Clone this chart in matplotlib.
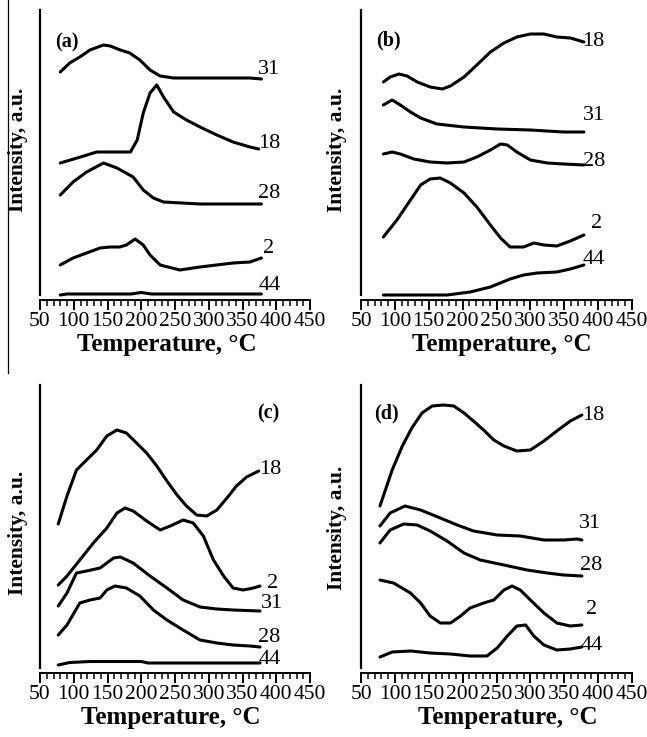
import matplotlib
matplotlib.use("Agg")
import matplotlib.pyplot as plt
from matplotlib.ticker import MultipleLocator
from matplotlib.lines import Line2D

plt.rcParams['font.family'] = ['Liberation Serif', 'DejaVu Serif']

# ---- Panel (a) ----
a_31_t = [80, 94, 109, 124, 144, 154, 169, 183, 198, 213, 228, 248, 287, 361, 378]
a_31_y = [223, 232, 238, 245, 250, 249, 245, 242, 235, 225, 219, 217, 217, 217, 216]
a_18_t = [80, 105, 134, 154, 184, 194, 203, 213, 223, 233, 248, 267, 287, 312, 336, 361, 374]
a_18_y = [132, 137, 143, 143, 143, 155, 182, 202, 210, 198, 183, 175, 168, 160, 153, 148, 146]
a_28_t = [80, 99, 119, 144, 164, 188, 203, 218, 233, 287, 378]
a_28_y = [100, 113, 123, 132, 127, 118, 105, 97, 93, 91, 91]
a_2_t = [80, 99, 119, 139, 154, 168, 178, 191, 203, 213, 228, 257, 287, 336, 361, 378]
a_2_y = [30, 37, 42, 47, 48, 48, 50, 56, 50, 40, 30, 25, 28, 32, 33, 37]
a_44_t = [80, 90, 185, 200, 215, 378]
a_44_y = [0, 1, 1, 2.5, 1, 1]

# ---- Panel (b) ----
b_18_t = [83, 93, 106, 118, 133, 152, 170, 182, 202, 221, 241, 261, 280, 300, 320, 339, 359, 379]
b_18_y = [213, 218, 221, 219, 213, 208, 206, 209, 218, 230, 243, 252, 258, 261, 261, 258, 257, 253]
b_31_t = [83, 96, 108, 123, 138, 162, 202, 251, 300, 349, 379]
b_31_y = [190, 195, 190, 183, 177, 171, 168, 166, 165, 163, 163]
b_28_t = [83, 96, 108, 128, 152, 177, 202, 221, 241, 256, 266, 280, 300, 325, 349, 379]
b_28_y = [141, 143, 141, 136, 133, 132, 133, 138, 145, 151, 150, 143, 135, 132, 131, 130]
b_2_t = [83, 103, 123, 138, 152, 167, 182, 202, 221, 241, 256, 270, 290, 305, 320, 339, 359, 379]
b_2_y = [58, 75, 95, 110, 116, 117, 112, 102, 88, 70, 57, 48, 48, 52, 50, 49, 54, 60]
b_44_t = [83, 177, 211, 241, 270, 290, 310, 339, 359, 379]
b_44_y = [0, 0, 3, 8, 16, 20, 22, 23, 26, 30]

# ---- Panel (c) ----
c_18_t = [77, 90, 104, 119, 134, 149, 164, 178, 193, 208, 223, 238, 253, 267, 282, 297, 312, 327, 341, 356, 374]
c_18_y = [144, 172, 198, 208, 218, 232, 238, 235, 225, 215, 202, 187, 173, 162, 153, 152, 158, 170, 182, 191, 197]
c_2_t = [77, 90, 109, 129, 149, 164, 176, 188, 208, 228, 243, 262, 277, 292, 307, 322, 336, 351, 366, 376]
c_2_y = [83, 92, 108, 125, 140, 155, 160, 157, 147, 138, 142, 148, 145, 132, 108, 92, 80, 78, 80, 82]
c_31_t = [77, 90, 104, 119, 139, 159, 169, 188, 213, 238, 262, 287, 312, 336, 376]
c_31_y = [62, 75, 95, 97, 100, 110, 111, 105, 92, 80, 68, 61, 59, 58, 57]
c_28_t = [77, 90, 109, 124, 139, 149, 161, 178, 198, 218, 238, 262, 287, 312, 336, 361, 376]
c_28_y = [33, 43, 65, 68, 70, 78, 82, 80, 72, 58, 48, 38, 28, 25, 23, 22, 21]
c_44_t = [77, 94, 124, 200, 210, 376]
c_44_y = [3, 5.5, 6.5, 6.5, 5, 5]

# ---- Panel (d) ----
d_18_t = [78, 86, 96, 111, 125, 140, 155, 172, 187, 202, 216, 231, 246, 261, 280, 300, 320, 339, 359, 376]
d_18_y = [162, 178, 198, 222, 240, 255, 262, 263, 262, 255, 247, 238, 228, 222, 217, 218, 227, 237, 247, 253]
d_31_t = [78, 93, 115, 138, 167, 192, 216, 251, 285, 320, 349, 369, 376]
d_31_y = [142, 155, 162, 158, 150, 143, 137, 133, 132, 128, 128, 129, 128]
d_28_t = [78, 93, 113, 133, 152, 177, 202, 226, 261, 295, 325, 349, 376]
d_28_y = [125, 138, 144, 143, 137, 127, 115, 108, 103, 98, 95, 93, 92]
d_2_t = [78, 98, 123, 138, 152, 167, 182, 197, 211, 231, 246, 261, 273, 285, 300, 320, 339, 359, 376]
d_2_y = [88, 85, 75, 65, 52, 45, 45, 52, 60, 65, 68, 78, 82, 78, 68, 55, 45, 42, 43]
d_44_t = [78, 96, 123, 152, 182, 211, 236, 251, 266, 280, 293, 305, 320, 339, 359, 376]
d_44_y = [11, 16, 17, 15, 14, 12, 12, 20, 32, 42, 43, 32, 23, 18, 19, 21]

x_ticks = [50, 100, 150, 200, 250, 300, 350, 400, 450]

panels = [
    dict(rect=[40, 10, 270, 285], ymax=285, tag='(a)', tag_xy=(90, 253),
         xlab_x=0.47, ylab_xy=(-0.044, 0.509),
         series=[(a_31_t, a_31_y, '31', (389, 225)),
                 (a_18_t, a_18_y, '18', (389, 152)),
                 (a_28_t, a_28_y, '28', (390, 102)),
                 (a_2_t, a_2_y, '2', (389, 47)),
                 (a_44_t, a_44_y, '44', (390, 10))]),
    dict(rect=[361, 10, 271, 285], ymax=285, tag='(b)', tag_xy=(91, 255),
         xlab_x=0.52, ylab_xy=(-0.052, 0.509),
         series=[(b_18_t, b_18_y, '18', (393, 254)),
                 (b_31_t, b_31_y, '31', (394, 180)),
                 (b_28_t, b_28_y, '28', (394, 134)),
                 (b_2_t, b_2_y, '2', (397, 72)),
                 (b_44_t, b_44_y, '44', (394, 36))]),
    dict(rect=[40, 385, 270, 283], ymax=283, tag='(c)', tag_xy=(388, 255),
         xlab_x=0.485, ylab_xy=(-0.044, 0.477),
         series=[(c_18_t, c_18_y, '18', (391, 198)),
                 (c_2_t, c_2_y, '2', (395, 85)),
                 (c_31_t, c_31_y, '31', (393, 65)),
                 (c_28_t, c_28_y, '28', (390, 31)),
                 (c_44_t, c_44_y, '44', (391, 8))]),
    dict(rect=[361, 385, 271, 283], ymax=283, tag='(d)', tag_xy=(88, 255),
         xlab_x=0.54, ylab_xy=(-0.052, 0.495),
         series=[(d_18_t, d_18_y, '18', (393, 253)),
                 (d_31_t, d_31_y, '31', (388, 145)),
                 (d_28_t, d_28_y, '28', (390, 102)),
                 (d_2_t, d_2_y, '2', (390, 58)),
                 (d_44_t, d_44_y, '44', (390, 23))]),
]

W, H = 647, 737
fig = plt.figure(figsize=(W / 100, H / 100), dpi=100)

for p in panels:
    x0, y0, w, h = p['rect']
    ax = fig.add_axes([x0 / W, 1 - (y0 + h) / H, w / W, h / H])
    ax.set_xlim(50, 450)
    ax.set_ylim(0, p['ymax'])
    for t, y, name, (lx, ly) in p['series']:
        ax.plot(t, y, color='black', lw=2.2, solid_capstyle='round',
                solid_joinstyle='round', clip_on=False)
        ax.text(lx, ly, name, ha='center', va='center', fontsize=16)
    tx, ty = p['tag_xy']
    ax.text(tx, ty, p['tag'], ha='center', va='center', fontsize=14.5,
            fontweight='bold')

    ax.spines['top'].set_visible(False)
    ax.spines['right'].set_visible(False)
    ax.spines['left'].set_linewidth(1.6)
    ax.spines['bottom'].set_linewidth(1.4)
    ax.spines['bottom'].set_position(('outward', 3.8))
    ax.set_yticks([])
    ax.set_xticks(x_ticks)
    ax.set_xticklabels([str(v) for v in x_ticks])
    ax.xaxis.set_minor_locator(MultipleLocator(10))
    ax.tick_params(axis='x', which='major', direction='out', length=7,
                   width=1.4, labelsize=15.5, pad=1.5)
    ax.tick_params(axis='x', which='minor', direction='out', length=4,
                   width=1.1)
    ax.set_xlabel('Temperature, °C', fontsize=18, fontweight='bold')
    ax.set_ylabel('Intensity, a.u.', fontsize=15.5, fontweight='bold')
    ax.xaxis.set_label_coords(p['xlab_x'], -38 / h)
    ax.yaxis.set_label_coords(*p['ylab_xy'])

# page border at the left of the upper row
fig.add_artist(Line2D([8 / W, 8 / W], [1, 1 - 373 / H], color='black',
                      lw=0.9, transform=fig.transFigure))

fig.savefig('out.png', dpi=100, facecolor='white')
